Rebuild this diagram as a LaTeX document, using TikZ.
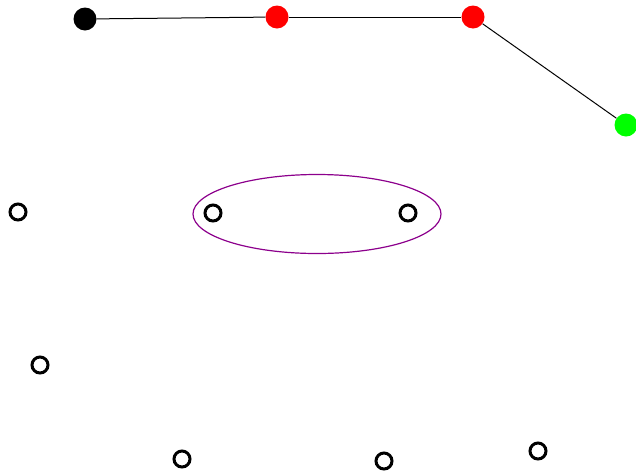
\documentclass[tikz,border=0pt]{standalone}
\usetikzlibrary{shapes.geometric}
\begin{document}
\begin{tikzpicture}[x=1pt,y=-1pt,
  fdot/.style={circle,inner sep=0pt,minimum size=23pt,draw=none},
  odot/.style={circle,inner sep=0pt,minimum size=16pt,draw=black,line width=3pt,fill=white},
  edge/.style={draw=black,line width=1pt}]
\useasboundingbox (0,0) rectangle (636,472);
\definecolor{ellcol}{RGB}{140,0,140}
\node[fdot,fill=black] (b) at (85,19) {};
\node[fdot,fill=red] (r1) at (277,17) {};
\node[fdot,fill=red] (r2) at (473,17) {};
\node[fdot,fill=green] (g) at (626,125) {};
\draw[edge] (b) -- (r1);
\draw[edge] (r1) -- (r2);
\draw[edge] (r2) -- (g);
\node[ellipse,draw=ellcol,line width=1.2pt,minimum width=248pt,minimum height=79pt,inner sep=0pt] (e) at (317,214) {};
\node[odot] (o1) at (18,212) {};
\node[odot] (o2) at (213,213) {};
\node[odot] (o3) at (408,213) {};
\node[odot] (o4) at (40,365) {};
\node[odot] (o5) at (182,459) {};
\node[odot] (o6) at (384,461) {};
\node[odot] (o7) at (538,451) {};
\end{tikzpicture}
\end{document}
